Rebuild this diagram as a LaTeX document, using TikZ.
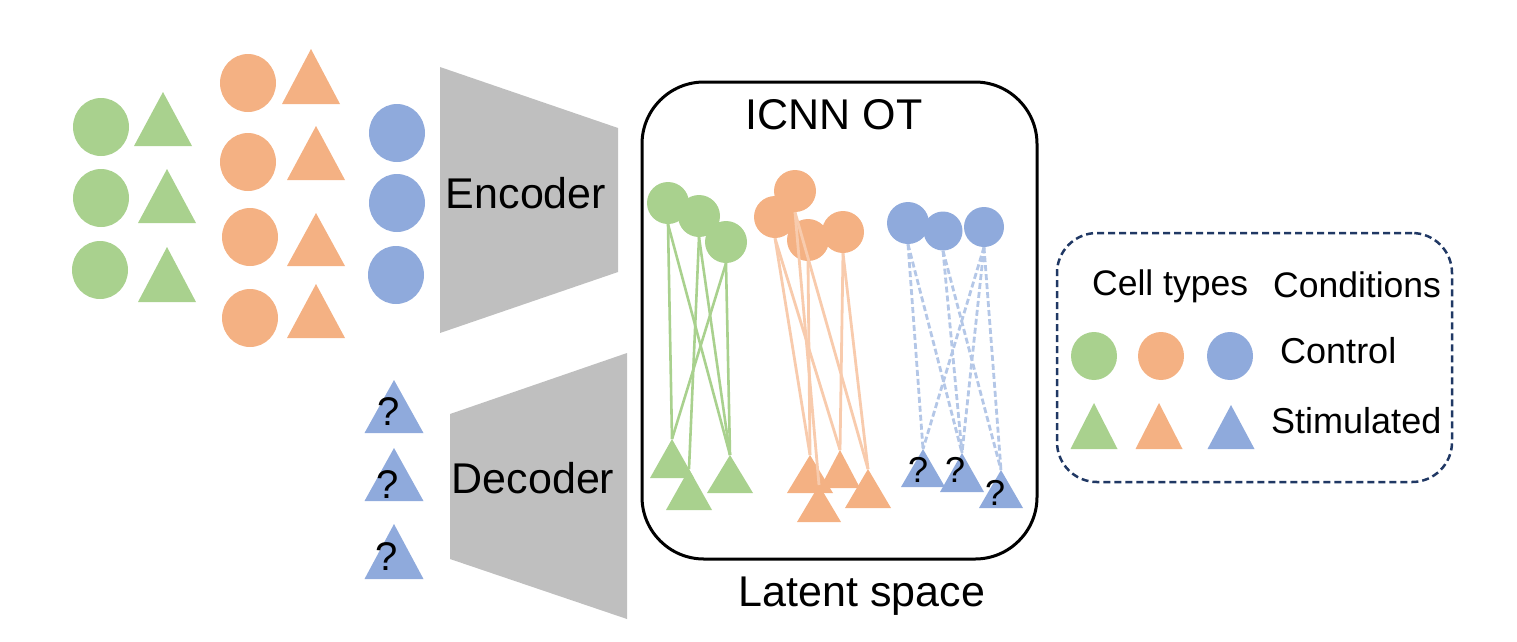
\documentclass[tikz,border=0pt]{standalone}
\usepackage{fontspec}
\setmainfont{Liberation Sans}
\usetikzlibrary{shapes.geometric}
\definecolor{grn}{HTML}{A9D18E}
\definecolor{org}{HTML}{F4B183}
\definecolor{blu}{HTML}{8FAADC}
\definecolor{orgl}{HTML}{F8CBAD}
\definecolor{blul}{HTML}{B4C7E7}
\definecolor{gry}{HTML}{BFBFBF}
\definecolor{navy}{HTML}{203864}
% name, colour, apex x, apex y, width, height
\newcommand\celltri[6]{\fill[#2] (#3,#4) -- ++({#5/2},#6) -- ++({-#5},0) -- cycle; \coordinate (#1) at (#3,#4);}
\begin{document}
\begin{tikzpicture}[x=1pt,y=-1pt,
  bigcell/.style={ellipse, inner sep=0pt, minimum width=56pt, minimum height=58pt},
  latcell/.style={circle, inner sep=0pt, minimum size=42pt},
  legcell/.style={ellipse, inner sep=0pt, minimum width=46pt, minimum height=48pt},
  lbl/.style={inner sep=0pt, anchor=base, font=\fontsize{43}{43}\selectfont},
  leglbl/.style={inner sep=0pt, anchor=base west, font=\fontsize{36}{36}\selectfont},
  leghead/.style={inner sep=0pt, anchor=base west, font=\fontsize{35.5}{36}\selectfont},
  qbig/.style={inner sep=0pt, anchor=base, font=\fontsize{40}{40}\selectfont},
  qsmall/.style={inner sep=0pt, anchor=base, font=\fontsize{36}{36}\selectfont},
  glink/.style={draw=grn, line width=2.6pt},
  olink/.style={draw=orgl, line width=2.8pt},
  blink/.style={draw=blul, line width=2.8pt, dash pattern=on 6pt off 3pt}]
\useasboundingbox (0,0) rectangle (1517,641);

% ---------- input cells ----------
\node[bigcell, fill=grn] (ig1) at (101,127) {};
\node[bigcell, fill=grn] (ig2) at (101,198) {};
\node[bigcell, fill=grn] (ig3) at (100,270) {};
\celltri{igt1}{grn}{163}{92}{58}{54}
\celltri{igt2}{grn}{167}{169}{58}{54}
\celltri{igt3}{grn}{167}{247}{58}{55}
\node[bigcell, fill=org] (io1) at (248,83) {};
\node[bigcell, fill=org] (io2) at (248,162) {};
\node[bigcell, fill=org] (io3) at (250,237) {};
\node[bigcell, fill=org] (io4) at (250,318) {};
\celltri{iot1}{org}{311}{49}{58}{55}
\celltri{iot2}{org}{316}{126}{58}{54}
\celltri{iot3}{org}{316}{213}{58}{53}
\celltri{iot4}{org}{316}{284}{58}{54}
\node[bigcell, fill=blu] (ib1) at (397,133) {};
\node[bigcell, fill=blu] (ib2) at (397,203) {};
\node[bigcell, fill=blu] (ib3) at (396,275) {};

% ---------- predicted cells ----------
\celltri{qt1}{blu}{394}{380}{59}{53}
\celltri{qt2}{blu}{394}{448}{59}{53}
\celltri{qt3}{blu}{394}{524}{59}{55}
\node[qbig] (q1) at (389,425) {?};
\node[qbig] (q2) at (388,498) {?};
\node[qbig] (q3) at (387,570) {?};

% ---------- encoder / decoder ----------
\fill[gry] (440,67) -- (618,128) -- (618,272) -- (440,333) -- cycle;
\fill[gry] (450,414) -- (627,353) -- (627,619) -- (450,559) -- cycle;
\node[lbl] (enc) at (526,208) {Encoder};
\node[lbl] (dec) at (533,493) {Decoder};

% ---------- latent space ----------
\node[draw, line width=3pt, rounded corners=62pt, minimum width=395pt, minimum height=477pt, inner sep=0pt] (box) at (839.5,320.5) {};
\node[lbl] (icnn) at (834,129) {ICNN OT};
\node[lbl] (lat) at (862,606) {Latent space};

\celltri{gt1}{grn}{672}{439}{44}{39}
\celltri{gt2}{grn}{689}{469}{46}{41}
\celltri{gt3}{grn}{730}{455}{46}{38}
\node[latcell, fill=grn] (g1) at (668,203) {};
\node[latcell, fill=grn] (g2) at (699,216) {};
\node[latcell, fill=grn] (g3) at (726,242) {};

\celltri{ot1}{org}{810}{455}{46}{38}
\celltri{ot2}{org}{840}{450}{40}{38}
\celltri{ot3}{org}{819}{485}{44}{37}
\celltri{ot4}{org}{868}{469}{46}{39}
\node[latcell, fill=org] (o1) at (795,191) {};
\node[latcell, fill=org] (o2) at (775,217) {};
\node[latcell, fill=org] (o3) at (808,240) {};
\node[latcell, fill=org] (o4) at (843,232) {};

\celltri{bt1}{blu}{923}{449}{44}{38}
\celltri{bt2}{blu}{962}{453}{44}{39}
\celltri{bt3}{blu}{1001}{470}{44}{38}
\node[latcell, fill=blu] (b1) at (908,223) {};
\node[latcell, minimum size=39pt, fill=blu] (b2) at (943,231) {};
\node[latcell, minimum size=40pt, fill=blu] (b3) at (984,227) {};

% connectors
\draw[glink] (g1.south) -- (gt1);
\draw[glink] (g1.south) -- (gt3);
\draw[glink] (g2.south) -- (gt2);
\draw[glink] (g2.south) -- (gt3);
\draw[glink] (g3.south) -- (gt1);
\draw[glink] (g3.south) -- (gt3);

\draw[olink] (o2.south) -- (ot1);
\draw[olink] (o2.south) -- (ot2);
\draw[olink] (o1.south) -- (ot3);
\draw[olink] (o1.south) -- (ot4);
\draw[olink] (o3.south) -- (ot1);
\draw[olink] (o4.south) -- (ot2);
\draw[olink] (o4.south) -- (ot4);

\draw[blink] (b1.south) -- (bt1);
\draw[blink] (b1.south) -- (bt2);
\draw[blink] (b2.south) -- (bt2);
\draw[blink] (b2.south) -- (bt3);
\draw[blink] (b3.south) -- (bt1);
\draw[blink] (b3.south) -- (bt2);
\draw[blink] (b3.south) -- (bt3);

\node[qsmall] (bq1) at (918,482) {?};
\node[qsmall] (bq2) at (955,482) {?};
\node[qsmall] (bq3) at (995,505) {?};

% ---------- legend ----------
\node[draw=navy, line width=2.5pt, dash pattern=on 7pt off 4pt, rounded corners=40pt, minimum width=395pt, minimum height=249pt, inner sep=0pt] (legend) at (1254.5,357.5) {};
\node[leghead] (hct) at (1092,295) {Cell types};
\node[leghead] (hcd) at (1273,297) {Conditions};
\node[legcell, fill=grn] (lg) at (1094,356) {};
\node[legcell, fill=org] (lo) at (1161,356) {};
\node[legcell, fill=blu] (lb) at (1230,356) {};
\celltri{lgt}{grn}{1094}{403}{47}{46}
\celltri{lot}{org}{1159}{403}{47}{46}
\celltri{lbt}{blu}{1231}{405}{47}{44}
\node[leglbl] (lctl) at (1280,363) {Control};
\node[leglbl] (lstim) at (1271,433) {Stimulated};
\end{tikzpicture}
\end{document}
